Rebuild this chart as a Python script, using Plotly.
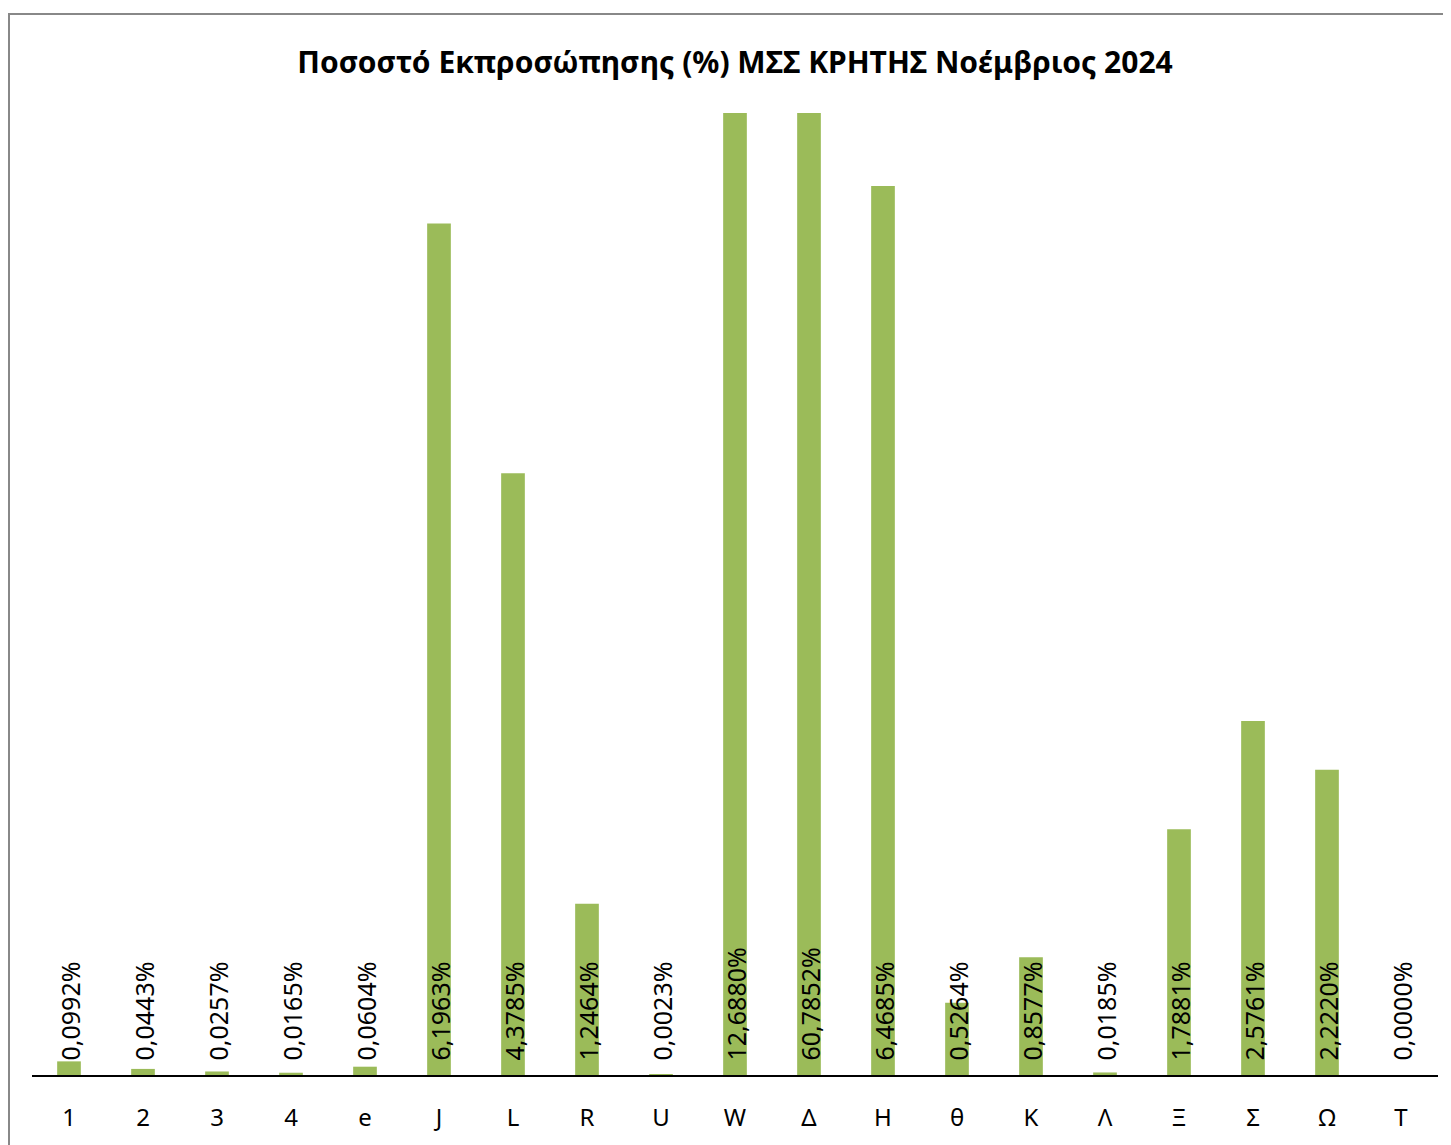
import plotly.graph_objects as go

categories = ["1", "2", "3", "4", "e", "J", "L", "R", "U", "W", "Δ", "H", "θ", "K", "Λ", "Ξ", "Σ", "Ω", "T"]
values = [0.0992, 0.0443, 0.0257, 0.0165, 0.0604, 6.1963, 4.3785, 1.2464, 0.0023,
          12.6880, 60.7852, 6.4685, 0.5264, 0.8577, 0.0185, 1.7881, 2.5761, 2.2220, 0.0000]
title_text = "Ποσοστό Εκπροσώπησης (%) ΜΣΣ ΚΡΗΤΗΣ Νοέμβριος 2024"
y_max = 7

labels = [f"{v:.4f}".replace(".", ",") + "%" for v in values]

# page body has an 8px margin; figure coordinates are offset accordingly
W, H = 1443, 1137
ml, mr, mt, mb = 24, 13, 105, 70
pw = W - ml - mr
ph = H - mt - mb

fig = go.Figure()
fig.add_trace(go.Bar(
    x=categories, y=values,
    marker=dict(color="#9BBB59", line=dict(width=0)),
    hoverinfo="x+y",
))

annotations = []
for i, t in enumerate(labels):
    annotations.append(dict(
        x=i, y=0, xref="x", yref="y", text=t, textangle=-90,
        showarrow=False, xanchor="center", yanchor="bottom", yshift=12,
        font=dict(family="Noto Sans", size=25, color="#000000"),
    ))

fig.update_layout(
    width=W, height=H,
    margin=dict(l=ml, r=mr, t=mt, b=mb, pad=0),
    paper_bgcolor="white", plot_bgcolor="white",
    bargap=0.68,
    showlegend=False,
    title=dict(text=title_text, x=(ml + pw / 2) / W, xanchor="center",
               y=1 - 54 / H, yanchor="middle",
               font=dict(family="Noto Sans", size=30, color="#000000", weight="bold")),
    xaxis=dict(type="category", showline=True, linecolor="#000000", linewidth=2, ticks="",
               showgrid=False, ticklabelstandoff=20,
               tickfont=dict(family="Noto Sans", size=24, color="#000000"),
               fixedrange=True),
    yaxis=dict(range=[0, y_max], visible=False, showgrid=False, zeroline=False,
               fixedrange=True),
    annotations=annotations,
    shapes=[dict(type="rect", xref="paper", yref="paper",
                 x0=(1 - ml) / pw, x1=(W + 5 - ml) / pw,
                 y0=-(mb + 5) / ph, y1=1 + (mt - 6) / ph,
                 line=dict(color="#888888", width=2), fillcolor="rgba(0,0,0,0)",
                 layer="below")],
)

fig.write_html("out.html")
